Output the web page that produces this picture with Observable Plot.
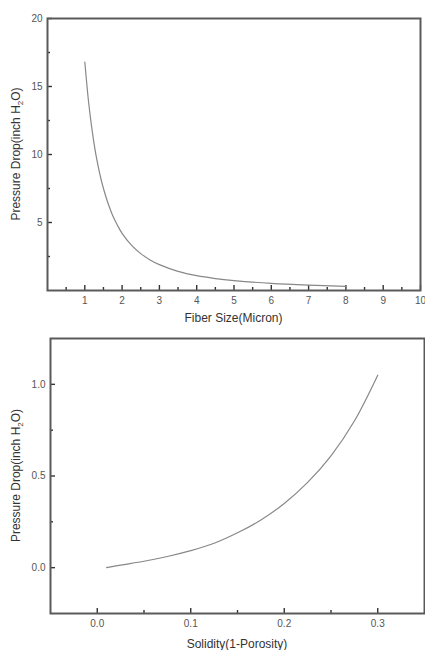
<!DOCTYPE html>
<html><head><meta charset="utf-8">
<script src="https://cdn.jsdelivr.net/npm/d3@7"></script>
<script src="https://cdn.jsdelivr.net/npm/@observablehq/plot@0.6"></script>
<style>
body{margin:0;background:#fff;font-family:"Liberation Sans",Arial,sans-serif}
#c svg{display:block}
</style></head><body><div id="c"></div>
<script>
// Panel 1: pressure drop vs fiber size
const fiberSize = [1, 1.1, 1.2, 1.3, 1.4, 1.5, 1.625, 1.75, 1.875, 2, 2.25, 2.5, 2.75, 3, 3.5, 4, 4.5, 5, 6, 7, 8];
const fiberDrop = [16.8, 13.9, 11.7, 9.95, 8.6, 7.5, 6.4, 5.5, 4.8, 4.2, 3.33, 2.71, 2.25, 1.9, 1.41, 1.09, 0.88, 0.73, 0.52, 0.394, 0.31];
const fiberXMajor = [1, 2, 3, 4, 5, 6, 7, 8, 9, 10];
const fiberXMinor = [0.5, 1.5, 2.5, 3.5, 4.5, 5.5, 6.5, 7.5, 8.5, 9.5];
const fiberYMajor = [5, 10, 15, 20];
const fiberYMinor = [2.5, 7.5, 12.5, 17.5];

// Panel 2: pressure drop vs solidity
const solidity = [0.01, 0.025, 0.05, 0.075, 0.1, 0.125, 0.15, 0.175, 0.2, 0.225, 0.25, 0.275, 0.3];
const solidityDrop = [0.0, 0.014, 0.035, 0.061, 0.093, 0.133, 0.19, 0.26, 0.35, 0.465, 0.61, 0.80, 1.05];
const solXMajor = [0, 0.1, 0.2, 0.3];
const solXMinor = [0.05, 0.15, 0.25];
const solYMajor = [0, 0.5, 1.0];
const solYMinor = [0.25, 0.75];

const yLabel = ["Pressure Drop(inch H", "2", "O)"];

function panel({xs, ys, xDomain, yDomain, xMajor, xMinor, yMajor, yMinor, fmt, xLabel, height, margins, xLabelY}) {
  const [mt, mr, mb, ml] = margins;
  const tickColor = "#555";
  const chart = Plot.plot({
    width: 425, height,
    marginTop: mt, marginRight: mr, marginBottom: mb, marginLeft: ml,
    style: {fontFamily: "'Liberation Sans', Arial, sans-serif", fontSize: "10px", color: "#555", background: "#fff"},
    x: {domain: xDomain},
    y: {domain: yDomain},
    marks: [
      Plot.axisX({ticks: xMajor, tickSize: -5, tickPadding: 11, tickFormat: fmt, label: null, stroke: "#333", strokeWidth: 1.4, fill: tickColor}),
      Plot.axisX({ticks: xMinor, tickSize: -3, tickFormat: () => "", label: null, stroke: "#333", strokeWidth: 1.4}),
      Plot.axisY({ticks: yMajor, tickSize: -5, tickPadding: 10, tickFormat: fmt, label: null, stroke: "#333", strokeWidth: 1.4, fill: tickColor}),
      Plot.axisY({ticks: yMinor, tickSize: -3, tickFormat: () => "", label: null, stroke: "#333", strokeWidth: 1.4}),
      Plot.frame({stroke: "#5a5a5a", strokeWidth: 2}),
      Plot.line(xs.map((x, i) => ({x, y: ys[i]})), {x: "x", y: "y", stroke: "#888", strokeWidth: 1.2, curve: "catmull-rom"})
    ]
  });
  const svg = d3.select(chart);
  const innerMidX = ml + (425 - ml - mr) / 2;
  const innerMidY = mt + (height - mt - mb) / 2;
  svg.append("text")
    .attr("x", innerMidX).attr("y", xLabelY)
    .attr("text-anchor", "middle")
    .attr("font-size", 12).attr("fill", "#333")
    .text(xLabel);
  const t = svg.append("text")
    .attr("transform", `translate(20,${innerMidY}) rotate(-90)`)
    .attr("text-anchor", "middle")
    .attr("font-size", 12).attr("fill", "#333");
  t.append("tspan").text(yLabel[0]);
  t.append("tspan").attr("font-size", 8).attr("dy", 3).text(yLabel[1]);
  t.append("tspan").attr("dy", -3).text(yLabel[2]);
  return chart;
}

const c = document.getElementById("c");
c.appendChild(panel({
  xs: fiberSize, ys: fiberDrop, xDomain: [0, 10], yDomain: [0, 20],
  xMajor: fiberXMajor, xMinor: fiberXMinor, yMajor: fiberYMajor, yMinor: fiberYMinor,
  fmt: d => String(d), xLabel: "Fiber Size(Micron)", height: 325,
  margins: [18, 5, 35, 47], xLabelY: 322
}));
c.appendChild(panel({
  xs: solidity, ys: solidityDrop, xDomain: [-0.05, 0.35], yDomain: [-0.25, 1.25],
  xMajor: solXMajor, xMinor: solXMinor, yMajor: solYMajor, yMinor: solYMinor,
  fmt: d3.format(".1f"), xLabel: "Solidity(1-Porosity)", height: 325,
  margins: [13, 1, 37, 50], xLabelY: 323
}));
</script></body></html>
